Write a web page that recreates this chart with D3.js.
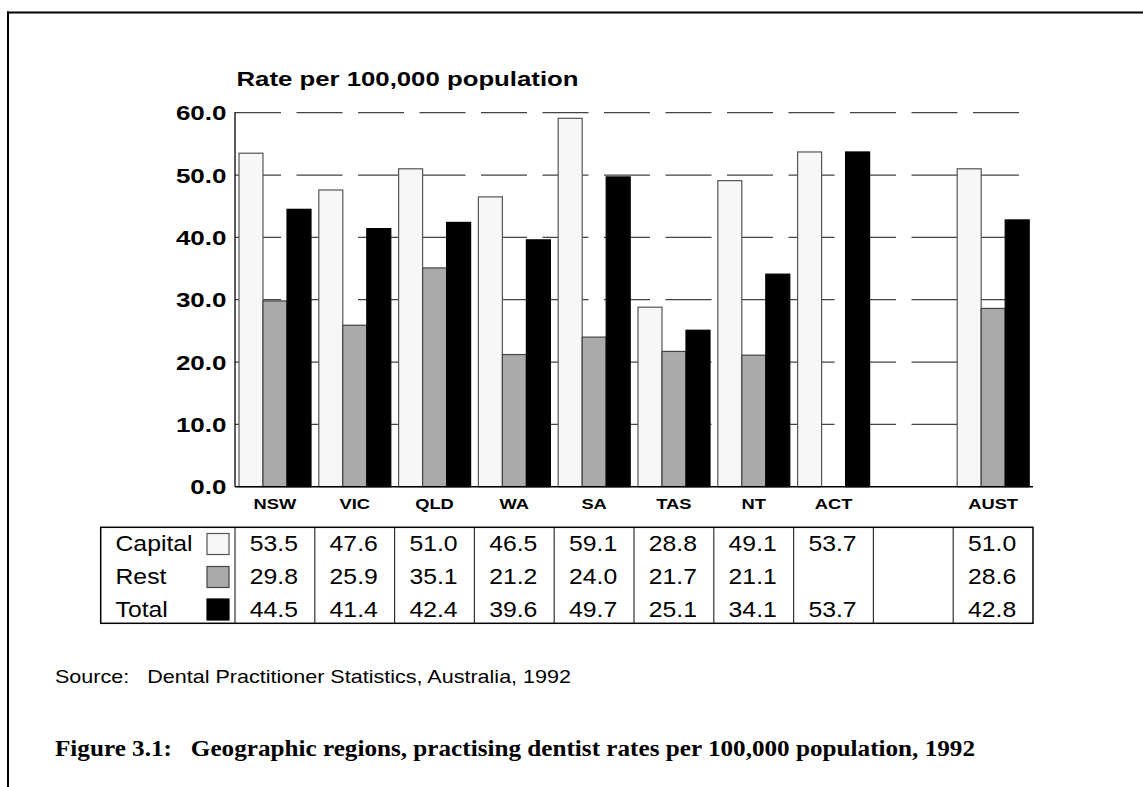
<!DOCTYPE html>
<html>
<head>
<meta charset="utf-8">
<script src="https://cdn.jsdelivr.net/npm/d3@7"></script>
<style>
  body { margin: 0; background: #fff; }
  svg { display: block; }
</style>
</head>
<body>
<svg id="chart" width="1143" height="787"></svg>
<script>
// ---- data ----
const categories = ["NSW", "VIC", "QLD", "WA", "SA", "TAS", "NT", "ACT", "", "AUST"];
const capital = [53.5, 47.6, 51.0, 46.5, 59.1, 28.8, 49.1, 53.7, null, 51.0];
const rest    = [29.8, 25.9, 35.1, 21.2, 24.0, 21.7, 21.1, null, null, 28.6];
const total   = [44.5, 41.4, 42.4, 39.6, 49.7, 25.1, 34.1, 53.7, null, 42.8];
const seriesNames = ["Capital", "Rest", "Total"];
const yTicks = [0, 10, 20, 30, 40, 50, 60];
const yTitle = "Rate per 100,000 population";
const sourceText = "Source:   Dental Practitioner Statistics, Australia, 1992";
const captionText = "Figure 3.1:   Geographic regions, practising dentist rates per 100,000 population, 1992";

(function () {
const series = [
  { name: seriesNames[0], values: capital, fill: "#f7f7f7", stroke: "#555" },
  { name: seriesNames[1], values: rest,    fill: "#aaaaaa", stroke: "#444" },
  { name: seriesNames[2], values: total,   fill: "#000000", stroke: "#000" }
];

const svg = d3.select("#chart");
const sans = "'Liberation Sans', Arial, Helvetica, sans-serif";
const serif = "'Liberation Serif', 'Times New Roman', serif";

function stretch(sel, factor) {
  sel.each(function () {
    const w = this.getComputedTextLength();
    d3.select(this).attr("textLength", w * factor).attr("lengthAdjust", "spacingAndGlyphs");
  });
}

// frame
svg.append("line").attr("x1", 7).attr("x2", 1143).attr("y1", 12.5).attr("y2", 12.5)
  .attr("stroke", "#000").attr("stroke-width", 2);
svg.append("line").attr("x1", 8).attr("x2", 8).attr("y1", 11.5).attr("y2", 787)
  .attr("stroke", "#000").attr("stroke-width", 2);

// scales
const pLeft = 235, pRight = 1033, pTop = 112.7, pBottom = 486.7;
const x = d3.scaleBand().domain(d3.range(categories.length)).range([pLeft, pRight]).paddingInner(0).paddingOuter(0);
const y = d3.scaleLinear().domain([0, 60]).range([pBottom, pTop]);
const xs = d3.scaleBand().domain([0, 1, 2]).range([4, 4 + 72]);

// gridlines (dashed)
svg.append("g").selectAll("line").data(yTicks.filter(d => d > 0)).join("line")
  .attr("x1", pLeft).attr("x2", pRight)
  .attr("y1", d => y(d)).attr("y2", d => y(d))
  .attr("stroke", "#444").attr("stroke-width", 1.3)
  .attr("stroke-dasharray", "46,15.5");

// bars
const groups = svg.append("g").selectAll("g").data(d3.range(categories.length)).join("g")
  .attr("transform", i => `translate(${x(i)},0)`);
series.forEach((s, si) => {
  groups.filter(i => s.values[i] != null).append("rect")
    .attr("x", xs(si)).attr("width", xs.bandwidth())
    .attr("y", i => y(s.values[i])).attr("height", i => y(0) - y(s.values[i]))
    .attr("fill", s.fill).attr("stroke", s.stroke).attr("stroke-width", 1.2);
});

// y axis
const yAxis = d3.axisLeft(y).tickValues(yTicks).tickFormat(d3.format(".1f")).tickSize(0).tickPadding(8.5);
const yg = svg.append("g").attr("transform", `translate(${pLeft},0)`).call(yAxis);
yg.select(".domain").remove();
yg.selectAll("text").attr("font-family", sans).attr("font-weight", "bold").attr("font-size", 20)
  .attr("fill", "#000").attr("dy", "0.36em").call(stretch, 1.3);
svg.append("line").attr("x1", pLeft).attr("x2", pLeft).attr("y1", pTop - 0.5).attr("y2", pBottom)
  .attr("stroke", "#000").attr("stroke-width", 1.3);
svg.append("line").attr("x1", pLeft).attr("x2", pRight).attr("y1", pBottom).attr("y2", pBottom)
  .attr("stroke", "#000").attr("stroke-width", 1.5);

// y title
svg.append("text").attr("x", 236.5).attr("y", 86).text(yTitle)
  .attr("font-family", sans).attr("font-weight", "bold").attr("font-size", 20)
  .attr("textLength", 342).attr("lengthAdjust", "spacingAndGlyphs");

// x axis labels
const xAxis = d3.axisBottom(x).tickFormat(i => categories[i]).tickSize(0).tickPadding(0);
const xg = svg.append("g").attr("transform", `translate(0,${pBottom})`).call(xAxis);
xg.select(".domain").remove();
xg.selectAll("text").attr("y", 22.5).attr("dy", 0)
  .attr("font-family", sans).attr("font-weight", "bold").attr("font-size", 15)
  .attr("fill", "#000").call(stretch, 1.22);

// table
const tTop = 527.3, tBottom = 623.3, tLeft = 100.7;
const rowBase = [551, 584, 616.5];
const table = svg.append("g");
table.selectAll("line.div").data(d3.range(categories.length)).join("line")
  .attr("class", "div")
  .attr("x1", i => x(i)).attr("x2", i => x(i))
  .attr("y1", tTop).attr("y2", tBottom)
  .attr("stroke", "#333").attr("stroke-width", 1.2);
table.append("rect").attr("x", tLeft).attr("y", tTop).attr("width", pRight - tLeft).attr("height", tBottom - tTop)
  .attr("fill", "none").attr("stroke", "#000").attr("stroke-width", 1.5);

series.forEach((s, si) => {
  table.append("text").attr("x", 115.5).attr("y", rowBase[si]).text(s.name)
    .attr("font-family", sans).attr("font-size", 22.5).attr("fill", "#000").call(stretch, 1.1);
  table.append("rect").attr("x", 207).attr("y", rowBase[si] - 17.5).attr("width", 22).attr("height", 21)
    .attr("fill", s.fill).attr("stroke", s.stroke).attr("stroke-width", 1.2);
  table.selectAll(null).data(d3.range(categories.length).filter(i => s.values[i] != null)).join("text")
    .attr("x", i => x(i) + x.bandwidth() / 2 - 1).attr("y", rowBase[si])
    .attr("text-anchor", "middle")
    .text(i => d3.format(".1f")(s.values[i]))
    .attr("font-family", sans).attr("font-size", 22.5).attr("fill", "#000").call(stretch, 1.1);
});

// source & caption
svg.append("text").attr("x", 55).attr("y", 683).text(sourceText)
  .attr("font-family", sans).attr("font-size", 19).attr("fill", "#000")
  .style("white-space", "pre").attr("xml:space", "preserve")
  .attr("textLength", 516).attr("lengthAdjust", "spacingAndGlyphs");
svg.append("text").attr("x", 55).attr("y", 756).text(captionText)
  .attr("font-family", serif).attr("font-weight", "bold").attr("font-size", 23).attr("fill", "#000")
  .style("white-space", "pre").attr("xml:space", "preserve")
  .attr("textLength", 920).attr("lengthAdjust", "spacingAndGlyphs");
})();
</script>
</body>
</html>
